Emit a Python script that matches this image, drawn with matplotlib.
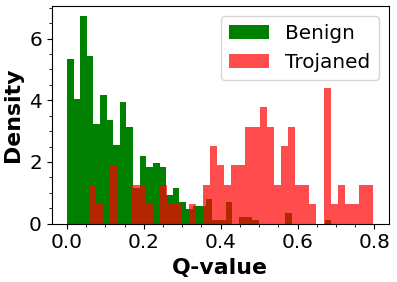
import numpy as np
import matplotlib
matplotlib.use("Agg")
import matplotlib.pyplot as plt
from matplotlib.ticker import AutoMinorLocator

# Histogram bin ranges (40 bins each)
benign_range = (0.0, 0.688)
trojaned_range = (0.0576, 0.797)
n_bins = 40

# Counts per bin (plotted as densities)
benign_counts = [46, 35, 58, 47, 28, 36, 29, 22, 34, 27,
                 10, 19, 16, 17, 16, 8, 10, 6, 4, 5,
                 5, 7, 1, 1, 6, 0, 2, 2, 1, 0,
                 0, 0, 0, 3, 0, 0, 0, 0, 0, 1]
trojaned_counts = [2, 1, 0, 3, 0, 0, 2, 2, 1, 0,
                   2, 1, 1, 0, 1, 0, 2, 4, 3, 2,
                   3, 3, 5, 5, 6, 5, 2, 4, 5, 2,
                   2, 1, 0, 7, 1, 2, 1, 1, 2, 2]

labels = ["Benign", "Trojaned"]
xlabel = "Q-value"
ylabel = "Density"

px = 0.72  # points per pixel at dpi 100

fig = plt.figure(figsize=(3.97, 2.82), dpi=100)
ax = fig.add_axes([0.130, 0.2067, 0.849, 0.772])

b_edges = np.linspace(benign_range[0], benign_range[1], n_bins + 1)
t_edges = np.linspace(trojaned_range[0], trojaned_range[1], n_bins + 1)
b_centers = (b_edges[:-1] + b_edges[1:]) / 2
t_centers = (t_edges[:-1] + t_edges[1:]) / 2

ax.hist(b_centers, bins=b_edges, weights=benign_counts, density=True,
        color="green", label=labels[0])
ax.hist(t_centers, bins=t_edges, weights=trojaned_counts, density=True,
        color="red", alpha=0.7, label=labels[1])

ax.set_xlabel(xlabel, fontsize=22 * px, fontweight="bold")
ax.set_ylabel(ylabel, fontsize=22 * px, fontweight="bold")
ax.tick_params(axis="both", which="major", labelsize=20 * px)
ax.xaxis.set_minor_locator(AutoMinorLocator())
ax.yaxis.set_minor_locator(AutoMinorLocator())
ax.set_xticks([0.0, 0.2, 0.4, 0.6, 0.8])
ax.set_yticks([0, 2, 4, 6])
ax.legend(loc="upper right", fontsize=20 * px)

fig.savefig("out.png", dpi=100)
